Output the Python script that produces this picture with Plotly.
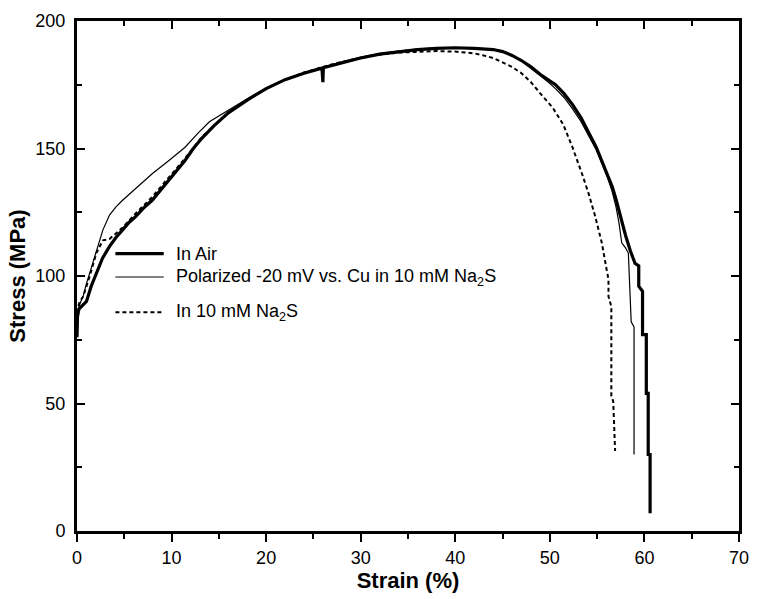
import plotly.graph_objects as go

# ---- data ----
air_strain = [0, 0.05, 0.2, 0.5, 1.0, 1.5, 2.05, 2.7, 3.44, 4.1, 4.82, 5.5, 6.2, 7.0, 7.95, 8.8, 9.69, 10.5,
              11.4, 12.3, 13.2, 14.5, 16, 18, 20, 22, 24, 25.9, 26.0, 26.05, 28, 30, 32, 34, 36, 38, 40, 42,
              44, 45, 46, 47, 48, 49, 50, 50.6, 51.5, 52.4, 53.3, 54.2, 54.9, 55.5, 56.1, 56.6, 57.0, 57.3,
              57.6, 58.0, 58.5, 59.0, 59.4, 59.4, 59.8, 59.8, 60.2, 60.2, 60.4, 60.4, 60.6, 60.6]
air_stress = [76, 84, 87, 88, 90, 96, 101, 107, 111.6, 115, 118.1, 121, 123.3, 126.5, 129.7, 133.5, 137.5, 141.5,
              145.2, 150, 154, 159, 164, 169, 173.5, 177, 179.5, 181.5, 176, 181.7, 183.5, 185.5, 187, 188, 188.8,
              189.3, 189.5, 189.3, 188.8, 188, 186.5, 184.5, 182, 179, 176.5, 175, 171.5, 167.2, 162, 155.6,
              150.5, 145.1, 140, 135, 130, 125.7, 120.5, 116, 110, 105, 104, 96, 94, 77, 77, 54, 54, 30, 30, 7]

pol_strain = [0, 0.05, 0.3, 0.66, 1.0, 1.35, 2.05, 2.74, 3.44, 4.1, 4.82, 6.2, 7.95, 9.69, 11.4, 12.8, 14, 16,
              18, 20, 22, 24, 26, 28, 30, 32, 34, 36, 38, 40, 42, 44, 45, 46, 47, 48, 49, 50, 50.6, 51.5,
              52.4, 53.3, 54.2, 54.9, 55.5, 56.1, 56.6, 57.0, 57.3, 57.6, 58.0, 58.3, 58.6, 58.9, 58.9]
pol_stress = [78, 86, 89, 92.2, 97, 101.3, 110.3, 118.1, 123.9, 127, 129.7, 134.3, 140.1, 145.2, 150.4, 156, 160.5,
              165, 169.5, 173.5, 177, 179.8, 182, 184, 185.8, 187.2, 188.2, 189, 189.5, 189.6, 189.4, 189, 188.3,
              186.5, 184.3, 181.5, 178.5, 175.5, 173.5, 170, 165.5, 160.5, 154.5, 149.5, 144, 138.5, 133, 127,
              121, 113, 111, 109, 82, 80, 30]

na2s_strain = [0, 0.05, 0.3, 0.66, 1.35, 2.05, 2.74, 3.44, 4.82, 6.2, 7.95, 9.69, 11.4, 13.2, 14.5, 16, 18, 20,
               22, 24, 26, 28, 30, 32, 34, 36, 38, 40, 42, 43, 44, 45, 46, 47, 48, 48.9, 50.3, 51.4, 52.4,
               53.4, 54.1, 54.8, 55.5, 56.0, 56.2, 56.2, 56.5, 56.5, 56.7, 56.9]
na2s_stress = [80, 87, 90, 92, 100, 109, 114, 114.5, 119, 124.5, 131, 138.5, 146, 154.5, 159, 164, 169, 173.5,
               177, 179.8, 182, 184, 185.5, 186.8, 187.6, 188, 188.2, 188, 187.3, 186.5, 185.5, 183.8, 182,
               179.5, 176, 172, 166, 159.5, 150.4, 140.1, 132.3, 123.3, 112.9, 102.6, 98.7, 92, 88, 53, 50.8, 31.4]

x_ticks = [0, 10, 20, 30, 40, 50, 60, 70]
y_ticks = [0, 50, 100, 150, 200]

FONT = "Arial, Liberation Sans, sans-serif"
TICK_SIZE = 18
LEG_SIZE = 18
TITLE_SIZE = 22

fig = go.Figure()
fig.add_trace(go.Scatter(x=air_strain, y=air_stress, mode="lines", name="In Air",
                         line=dict(color="black", width=3.2), showlegend=False))
fig.add_trace(go.Scatter(x=pol_strain, y=pol_stress, mode="lines",
                         name="Polarized -20 mV vs. Cu in 10 mM Na<sub>2</sub>S",
                         line=dict(color="black", width=1.2), showlegend=False))
fig.add_trace(go.Scatter(x=na2s_strain, y=na2s_stress, mode="lines", name="In 10 mM Na<sub>2</sub>S",
                         line=dict(color="black", width=2, dash="4px,3px"), showlegend=False))
# dummy trace to activate the top axis
fig.add_trace(go.Scatter(x=[None], y=[None], xaxis="x2", yaxis="y", showlegend=False, hoverinfo="skip"))

axis_common = dict(showgrid=False, zeroline=False, showline=True, linecolor="black", linewidth=3,
                   tickcolor="black", tickwidth=2, ticklen=8)

fig.update_layout(
    width=760, height=599,
    margin=dict(l=77, r=11, t=16, b=68),
    paper_bgcolor="white", plot_bgcolor="white",
    font=dict(family=FONT, size=TICK_SIZE, color="black"),
    xaxis=dict(range=[0, 70], tickvals=x_ticks, ticktext=[str(v) for v in x_ticks], ticks="outside",
               minor=dict(dtick=5, tick0=0, ticks="outside", ticklen=5, tickwidth=2, tickcolor="black"),
               title=dict(text="<b>Strain (%)</b>", font=dict(size=TITLE_SIZE), standoff=2),
               tickfont=dict(size=TICK_SIZE), **axis_common),
    xaxis2=dict(range=[0, 70], overlaying="x", side="top", tickvals=x_ticks, ticks="inside",
                showticklabels=False,
                minor=dict(dtick=5, tick0=0, ticks="inside", ticklen=5, tickwidth=2, tickcolor="black"),
                **axis_common),
    yaxis=dict(range=[0, 200], tickvals=y_ticks, ticktext=[str(v) for v in y_ticks], ticks="inside",
               mirror="ticks", ticklabelstandoff=5,
               minor=dict(dtick=25, tick0=0, ticks="inside", ticklen=5, tickwidth=2, tickcolor="black"),
               title=dict(text="<b>Stress (MPa)</b>", font=dict(size=TITLE_SIZE), standoff=4),
               tickfont=dict(size=TICK_SIZE), **axis_common),
)

# manual legend (positions in paper coordinates)
rows = [(0.544, "In Air", dict(color="black", width=3.2)),
        (0.498, "Polarized -20 mV vs. Cu in 10 mM Na<sub>2</sub>S", dict(color="black", width=1.2)),
        (0.429, "In 10 mM Na<sub>2</sub>S", dict(color="black", width=2, dash="4px,3px"))]
for yv, txt, ln in rows:
    fig.add_shape(type="line", xref="paper", yref="paper", x0=0.058, x1=0.131, y0=yv, y1=yv, line=ln)
    fig.add_annotation(xref="paper", yref="paper", x=0.147, y=yv, text=txt, showarrow=False,
                       xanchor="left", yanchor="middle", font=dict(size=LEG_SIZE, family=FONT))

fig.write_html("out.html")
